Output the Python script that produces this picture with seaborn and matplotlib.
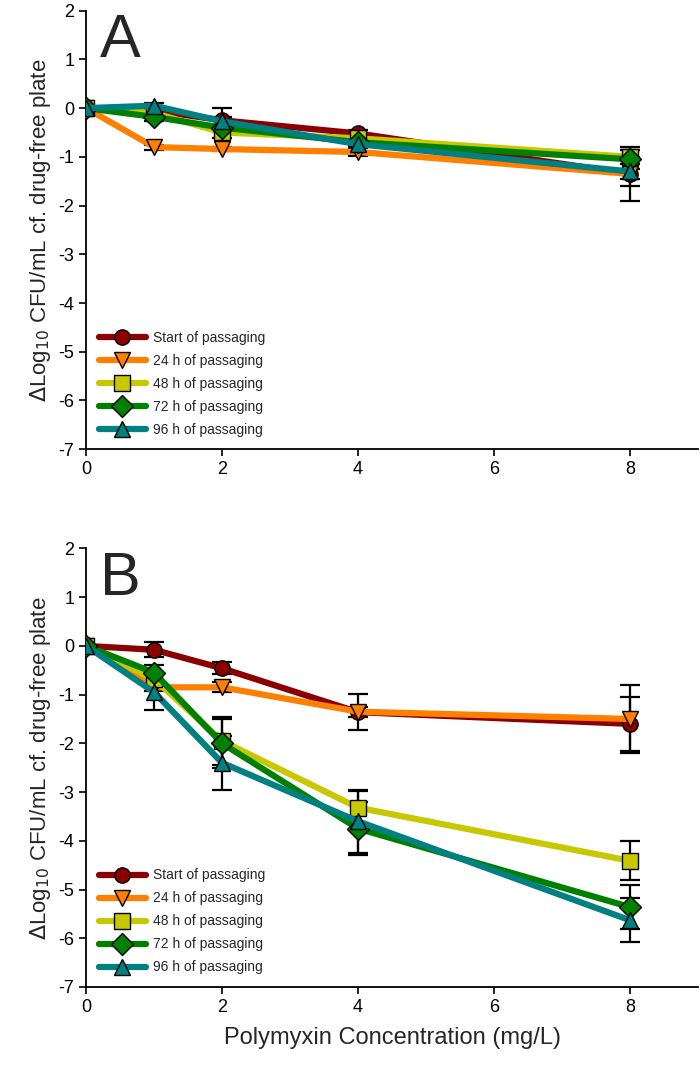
import matplotlib
matplotlib.use("Agg")
import matplotlib.pyplot as plt
from matplotlib.lines import Line2D
import seaborn as sns
import pandas as pd

# concentrations (mg/L)
conc = [0, 1, 2, 4, 8]
series = ["Start of passaging", "24 h of passaging", "48 h of passaging",
          "72 h of passaging", "96 h of passaging"]
colors = ["#8B0000", "#FF8000", "#C8C800", "#008000", "#008080"]
markers = ["o", "v", "s", "D", "^"]

# panel A
a_start = [0, -0.05, -0.25, -0.52, -1.35]
a_24h = [0, -0.80, -0.84, -0.90, -1.35]
a_48h = [0, -0.10, -0.50, -0.62, -1.00]
a_72h = [0, -0.18, -0.40, -0.70, -1.05]
a_96h = [0, 0.05, -0.27, -0.74, -1.30]
a_start_err = [0, 0.05, 0.25, 0.08, 0.55]
a_24h_err = [0, 0.05, 0.05, 0.08, 0.10]
a_48h_err = [0, 0.05, 0.12, 0.08, 0.15]
a_72h_err = [0, 0.08, 0.05, 0.08, 0.20]
a_96h_err = [0, 0.05, 0.08, 0.08, 0.30]

# panel B
b_start = [0, -0.08, -0.46, -1.36, -1.60]
b_24h = [0, -0.85, -0.85, -1.35, -1.50]
b_48h = [0, -0.68, -1.95, -3.32, -4.41]
b_72h = [0, -0.55, -2.00, -3.75, -5.36]
b_96h = [0, -0.95, -2.40, -3.60, -5.63]
b_start_err = [0, 0.15, 0.12, 0.37, 0.55]
b_24h_err = [0, 0.08, 0.10, 0.10, 0.70]
b_48h_err = [0, 0.15, 0.50, 0.35, 0.40]
b_72h_err = [0, 0.15, 0.50, 0.55, 0.45]
b_96h_err = [0, 0.37, 0.55, 0.65, 0.45]

panels = {
    "A": ([a_start, a_24h, a_48h, a_72h, a_96h],
          [a_start_err, a_24h_err, a_48h_err, a_72h_err, a_96h_err]),
    "B": ([b_start, b_24h, b_48h, b_72h, b_96h],
          [b_start_err, b_24h_err, b_48h_err, b_72h_err, b_96h_err]),
}

sns.set_theme(style="ticks")
plt.rcParams["font.family"] = ["Liberation Sans", "DejaVu Sans"]
plt.rcParams["axes.unicode_minus"] = False

fig = plt.figure(figsize=(7, 10.67), dpi=100)
ax_a = fig.add_axes([0.123, 0.579, 0.874, 0.411])
ax_b = fig.add_axes([0.123, 0.075, 0.874, 0.411])

for ax, letter in [(ax_a, "A"), (ax_b, "B")]:
    vals, errs = panels[letter]
    rows = []
    for name, v in zip(series, vals):
        for c, y in zip(conc, v):
            rows.append({"conc": c, "value": y, "series": name})
    df = pd.DataFrame(rows)

    # error bars behind markers
    for v, e in zip(vals, errs):
        ax.errorbar(conc, v, yerr=e, fmt="none", ecolor="black",
                    elinewidth=1.6, capsize=7, capthick=1.6, zorder=3)

    sns.lineplot(data=df, x="conc", y="value", hue="series", style="series",
                 hue_order=series, style_order=series,
                 palette=dict(zip(series, colors)),
                 markers=dict(zip(series, markers)), dashes=False,
                 linewidth=4.5, markersize=11, markeredgecolor="black",
                 markeredgewidth=1.0, legend=False, ax=ax, zorder=4)

    ax.set_xlim(0, 9)
    ax.set_ylim(-7, 2)
    ax.set_xticks([0, 2, 4, 6, 8])
    ax.set_yticks(range(-7, 3))
    ax.tick_params(direction="out", length=5, width=1.2, labelsize=13,
                   colors="black")
    for s in ["top", "right"]:
        ax.spines[s].set_visible(False)
    for s in ["left", "bottom"]:
        ax.spines[s].set_linewidth(1.3)
        ax.spines[s].set_color("black")
    ax.set_ylabel(r"$\Delta$Log$_{10}$ CFU/mL cf. drug-free plate",
                  fontsize=16, labelpad=4)
    ax.set_xlabel("")
    ax.text(0.022, 0.995, letter, transform=ax.transAxes, fontsize=44,
            va="top", ha="left")

    handles = [Line2D([0], [0], color=c, marker=m, linewidth=4.5,
                      markersize=11, markeredgecolor="black",
                      markeredgewidth=1.0)
               for c, m in zip(colors, markers)]
    ax.legend(handles, series, loc="lower left", frameon=False,
              fontsize=10, handlelength=3.4, labelspacing=0.65,
              borderaxespad=0.5, handletextpad=0.5,
              bbox_to_anchor=(0.0, 0.0))

ax_b.set_xlabel("Polymyxin Concentration (mg/L)", fontsize=17, labelpad=8)

fig.savefig("out.png", dpi=100)
